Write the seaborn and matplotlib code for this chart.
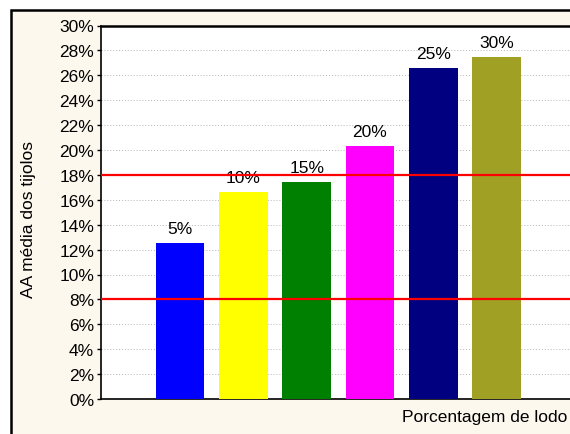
import matplotlib
matplotlib.use("Agg")
import matplotlib.pyplot as plt
from matplotlib.patches import Rectangle
from matplotlib.ticker import PercentFormatter, MultipleLocator
import pandas as pd
import seaborn as sns

# data
categories = ["5%", "10%", "15%", "20%", "25%", "30%"]
aa_media = [0.125, 0.166, 0.174, 0.203, 0.266, 0.275]
limits = [0.08, 0.18]
bar_colors = ["#0000FF", "#FFFF00", "#008000", "#FF00FF", "#000080", "#A0A024"]

df = pd.DataFrame({"lodo": categories, "aa": aa_media})

sns.set_theme(style="white")
plt.rcParams["font.family"] = ["Liberation Sans", "DejaVu Sans"]
plt.rcParams["text.color"] = "black"
plt.rcParams["ytick.color"] = "black"

fig = plt.figure(figsize=(5.7, 4.35), dpi=100)
fig.patch.set_facecolor("white")

# cream panel with black frame (cut off at right/bottom like the reference)
fig.patches.append(Rectangle((11 / 570, -0.2), 1.2, 0.2 + 1 - 10.5 / 435,
                             transform=fig.transFigure, facecolor="#FDF8EE",
                             edgecolor="black", linewidth=1.8, zorder=-5))

ax = fig.add_axes([101 / 570, 1 - 400 / 435, 1 - 101 / 570, (400 - 26.5) / 435])
ax.set_zorder(2)
ax.set_facecolor("white")

sns.barplot(data=df, x="lodo", y="aa", hue="lodo", palette=bar_colors,
            legend=False, width=0.77, saturation=1, linewidth=0, ax=ax, zorder=3)

for i, cont in enumerate(ax.containers):
    ax.bar_label(cont, labels=[categories[i]], padding=5, fontsize=12.5)

for lim in limits:
    ax.axhline(lim, color="red", linewidth=1.6, zorder=4)

ax.set_ylim(0, 0.30)
ax.set_xlim(-1.25, 6.16)
ax.yaxis.set_major_locator(MultipleLocator(0.02))
ax.yaxis.set_major_formatter(PercentFormatter(1.0, decimals=0))
ax.grid(axis="y", color="#B4B4B4", linestyle=(0, (1, 2)), linewidth=0.7, zorder=0)
ax.set_axisbelow(True)

ax.set_xticks([])
ax.set_xlabel("")
ax.set_ylabel("")
ax.tick_params(axis="y", left=True, length=3, width=1, color="black",
               labelsize=12.5, pad=2)

for side in ["left", "bottom", "top"]:
    ax.spines[side].set_visible(True)
    ax.spines[side].set_color("black")
ax.spines["left"].set_linewidth(1.2)
ax.spines["bottom"].set_linewidth(1.2)
ax.spines["top"].set_linewidth(1.8)
ax.spines["right"].set_visible(False)

fig.text(567 / 570, 1 - 418 / 435, "Porcentagem de lodo", ha="right",
         va="center", fontsize=12.5)
fig.text(29 / 570, 1 - 220 / 435, "AA média dos tijolos", rotation=90,
         ha="center", va="center", fontsize=12.5)

fig.savefig("out.png", dpi=100)
